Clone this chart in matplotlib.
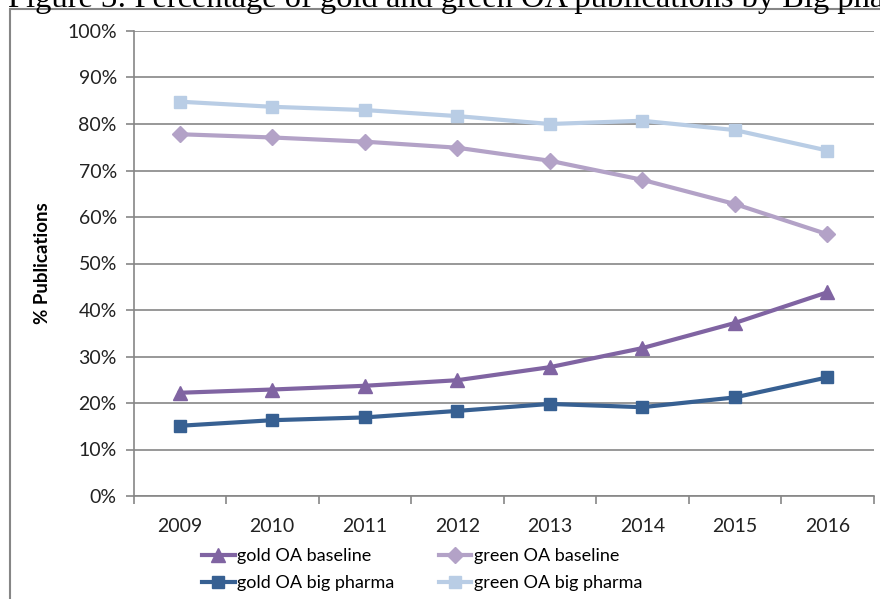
import matplotlib.pyplot as plt
from matplotlib.patches import Rectangle

years = ["2009", "2010", "2011", "2012", "2013", "2014", "2015", "2016"]
gold_baseline = [22.2, 22.9, 23.7, 24.9, 27.7, 31.8, 37.2, 43.8]
green_baseline = [77.8, 77.1, 76.2, 74.9, 72.1, 68.0, 62.8, 56.3]
gold_pharma = [15.1, 16.3, 16.9, 18.3, 19.8, 19.1, 21.2, 25.5]
green_pharma = [84.8, 83.7, 83.0, 81.7, 80.0, 80.7, 78.7, 74.3]

GRID = "#868686"
FONT = "Lato"

W, H = 880, 599
fig = plt.figure(figsize=(W / 100, H / 100), dpi=100)

# caption line, mostly cut off at the top edge
fig.text(8 / W, 1 - 7 / H, "Figure 3: Percentage of gold and green OA publications by Big pharma",
         family="Liberation Serif", fontsize=23.4, va="baseline", ha="left")

# chart frame
fig.patches.append(Rectangle((10 / W, -0.1), 1.2, 1.1 - 9 / H, transform=fig.transFigure,
                             fill=False, edgecolor=GRID, lw=1.5))

left, right, top, bottom = 133.5, 873.5, 31, 496
ax = fig.add_axes([left / W, 1 - bottom / H, (right - left) / W, (bottom - top) / H])

x = list(range(len(years)))
lw, ms = 3.0, 9
l1, = ax.plot(x, gold_baseline, color="#8064A2", marker="^", lw=lw, ms=ms + 1, label="gold OA baseline")
l2, = ax.plot(x, green_baseline, color="#B3A2C7", marker="D", lw=lw, ms=ms - 1, label="green OA baseline")
l3, = ax.plot(x, gold_pharma, color="#376092", marker="s", lw=lw, ms=ms, label="gold OA big pharma")
l4, = ax.plot(x, green_pharma, color="#B9CDE5", marker="s", lw=lw, ms=ms, label="green OA big pharma")

ax.set_xlim(-0.5, len(years) - 0.5)
ax.set_ylim(0, 100)
ax.set_yticks(range(0, 101, 10))
ax.set_yticklabels([f"{v}%" for v in range(0, 101, 10)], family=FONT, fontsize=14, color="#222222")
ax.set_xticks(x)
ax.set_xticklabels(years, family=FONT, fontsize=14, color="#222222")
ax.set_xticks([i - 0.5 for i in range(len(years) + 1)], minor=True)
ax.tick_params(axis="x", which="major", length=0, pad=16)
ax.tick_params(axis="x", which="minor", length=6, width=1.2, color=GRID, direction="out")
ax.tick_params(axis="y", length=6, width=1.2, color=GRID, pad=6)
ax.yaxis.grid(True, color=GRID, lw=1.2)
ax.set_axisbelow(True)
for s in ("top", "right"):
    ax.spines[s].set_visible(False)
for s in ("left", "bottom"):
    ax.spines[s].set_color(GRID)
    ax.spines[s].set_linewidth(1.2)

ax.set_ylabel("% Publications", family=FONT, fontsize=13.5, fontweight="bold", labelpad=12)

fig.legend([l1, l3, l2, l4], [l.get_label() for l in (l1, l3, l2, l4)],
           ncol=2, loc="upper left", bbox_to_anchor=(202 / W, 1 - 548 / H),
           frameon=False, prop={"family": FONT, "size": 13},
           handlelength=1.8, handletextpad=0.15, columnspacing=2.45,
           labelspacing=0.62, borderpad=0, borderaxespad=0)

fig.savefig("out.png", dpi=100)
